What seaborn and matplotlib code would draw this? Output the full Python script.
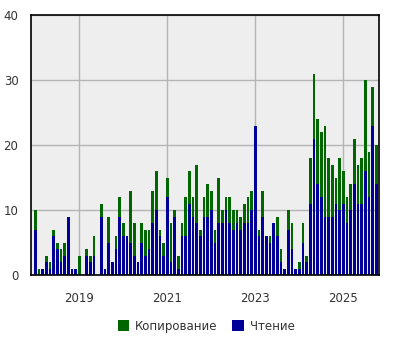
import numpy as np
import pandas as pd
import matplotlib
matplotlib.use("Agg")
import matplotlib.pyplot as plt
import seaborn as sns
from matplotlib.patches import Patch

# Monthly data, 2018-01 .. 2025-10
start_month = "2018-01"
chtenie = [7, 0, 1, 2, 1, 6, 4, 2, 3, 9, 1, 1,
           0, 0, 3, 2, 3, 0, 9, 1, 5, 2, 4, 9,
           6, 6, 5, 3, 2, 5, 3, 4, 8, 10, 6, 3,
           12, 2, 9, 1, 6, 6, 11, 9, 8, 6, 9, 9,
           10, 5, 8, 8, 10, 8, 7, 8, 7, 8, 8, 10,
           23, 6, 9, 6, 5, 8, 6, 2, 1, 7, 4, 1,
           1, 5, 2, 11, 21, 14, 12, 9, 9, 9, 11, 10,
           11, 8, 10, 14, 11, 11, 16, 12, 23, 14]
kopirovanie = [3, 1, 0, 1, 1, 1, 1, 2, 2, 0, 0, 0,
               3, 0, 1, 1, 3, 0, 2, 0, 4, 0, 2, 3,
               2, 0, 8, 5, 0, 3, 4, 3, 5, 6, 1, 2,
               3, 6, 1, 2, 2, 6, 5, 3, 9, 1, 3, 5,
               3, 2, 7, 2, 2, 4, 3, 2, 2, 3, 4, 3,
               0, 1, 4, 0, 1, 0, 3, 2, 0, 3, 4, 0,
               1, 3, 1, 7, 10, 10, 10, 14, 9, 8, 4, 8,
               5, 4, 4, 7, 6, 7, 14, 7, 6, 6]
series_names = ["Копирование", "Чтение"]
tick_years = [2019, 2021, 2023, 2025]
y_ticks = [0, 10, 20, 30, 40]

months = pd.date_range(start_month, periods=len(chtenie), freq="MS")
pos = np.arange(len(months))
ch = np.array(chtenie)
ko = np.array(kopirovanie)
# stacked: green bar reaches the sum, blue bar drawn in front from zero
long = pd.concat([
    pd.DataFrame({"pos": pos, "value": ch + ko, "series": series_names[0]}),
    pd.DataFrame({"pos": pos, "value": ch, "series": series_names[1]}),
], ignore_index=True)

green = "#006600"
blue = "#000099"

sns.set_style("white")
plt.rcParams["font.family"] = ["DejaVu Sans"]

fig = plt.figure(figsize=(4, 3.5), dpi=100)
ax = fig.add_axes([31 / 400, 75 / 350, 348 / 400, 260 / 350])
ax.set_facecolor("#eeeeee")

sns.barplot(data=long, x="pos", y="value", hue="series",
            hue_order=series_names, palette=[green, blue], dodge=False,
            width=0.75, native_scale=True, saturation=1, ax=ax,
            edgecolor="none", linewidth=0, legend=False)

tick_pos = [int(pos[(months.year == y) & (months.month == 1)][0]) for y in tick_years]
ax.set_xticks(tick_pos)
ax.set_xticklabels([str(y) for y in tick_years])
ax.set_yticks(y_ticks)
ax.set_ylim(0, 40)
ax.set_xlim(-1.2, len(months) - 0.3)
ax.grid(True, color="#b4b4b4", linewidth=1)
ax.set_axisbelow(True)
ax.set_xlabel("")
ax.set_ylabel("")
for s in ax.spines.values():
    s.set_color("black")
    s.set_linewidth(1.2)
    s.set_visible(True)
ax.tick_params(axis="both", length=6, width=1, color="black",
               labelsize=8.5, labelcolor="#333333")
ax.tick_params(axis="x", pad=6)
ax.tick_params(axis="y", pad=3)

handles = [Patch(facecolor=green, edgecolor="none", label=series_names[0]),
           Patch(facecolor=blue, edgecolor="none", label=series_names[1])]
fig.legend(handles=handles, loc="center", bbox_to_anchor=(0.515, 0.068), ncol=2,
           frameon=False, fontsize=8.5, handlelength=1.0, handleheight=1.0,
           handletextpad=0.5, columnspacing=1.2, labelcolor="#333333")

fig.savefig("out.png", dpi=100)
